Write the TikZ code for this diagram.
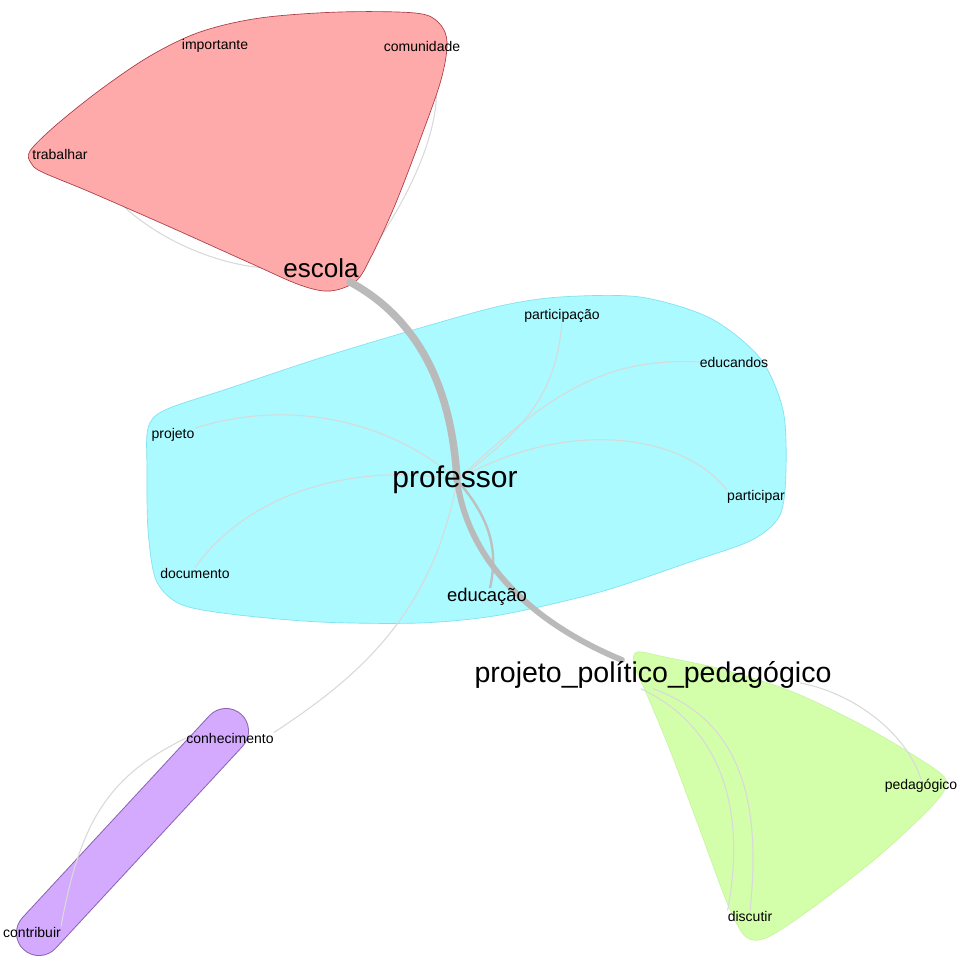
\documentclass[tikz,border=0pt]{standalone}
\usepackage{fontspec}
\setmainfont{Liberation Sans}
\pgfdeclarelayer{under}
\pgfdeclarelayer{hulls}
\pgfdeclarelayer{edges}
\pgfsetlayers{under,hulls,edges,main}
\begin{document}
\begin{tikzpicture}[x=0.75pt,y=-0.75pt,
  small/.style={font=\fontsize{10.5}{12}\selectfont, text=black, inner sep=0pt},
  big/.style={text=black, inner sep=0pt},
  faint/.style={draw=black!15, line width=0.8pt},
  hub/.style={draw=black!27, line width=5.6pt, line cap=round},
  midedge/.style={draw=black!25, line width=1.8pt},
  blobred/.style={fill={rgb,255:red,255;green,170;blue,170}, draw={rgb,255:red,170;green,60;blue,70}, line width=0.5pt},
  blobcyan/.style={fill={rgb,255:red,170;green,250;blue,255}, draw={rgb,255:red,130;green,225;blue,240}, line width=0.5pt},
  blobgreen/.style={fill={rgb,255:red,212;green,255;blue,170}, draw={rgb,255:red,200;green,245;blue,160}, line width=0.5pt}]

\begin{pgfonlayer}{under}
\fill[white] (0,0) rectangle (961,956);
\end{pgfonlayer}
\useasboundingbox (0,0) rectangle (961,956);

% ---- word nodes ----
\node[small] (importante) at (215,46) {importante};
\node[small] (comunidade) at (422,46) {comunidade};
\node[small] (trabalhar) at (60,154) {trabalhar};
\node[big, font=\fontsize{19.5}{22}\selectfont] (escola) at (321,268) {escola};
\node[small] (participacao) at (562,316) {participação};
\node[small] (educandos) at (734,362) {educandos};
\node[small] (projeto) at (173,435) {projeto};
\node[big, font=\fontsize{22.5}{26}\selectfont] (professor) at (455,480) {professor};
\node[small] (participar) at (756,497) {participar};
\node[small] (documento) at (195,573) {documento};
\node[big, font=\fontsize{13.8}{16}\selectfont] (educacao) at (487,597) {educação};
\node[big, font=\fontsize{21.4}{24}\selectfont] (ppp) at (653,675) {projeto\_político\_pedagógico};
\node[small] (pedagogico) at (921,786) {pedagógico};
\node[small] (discutir) at (750,916) {discutir};
\node[small] (conhecimento) at (230,738) {conhecimento};
\node[small] (contribuir) at (32,932) {contribuir};

% ---- edge end points ----
\coordinate (escout) at (350,282);
\coordinate (profc) at (457,480);
\coordinate (pppin) at (622,660);
\coordinate (eduin) at (490,588);
\coordinate (comin) at (436,85);
\coordinate (pppne) at (800,683);

% ---- edges of the red group, partly hidden by its hull ----
\begin{pgfonlayer}{under}
\draw[faint] (trabalhar.south east) .. controls (120,228) and (220,272) .. (escola.west);
\draw[faint] (comin) .. controls (440,130) and (410,200) .. (escola.east);
\end{pgfonlayer}

% ---- cluster hulls ----
\begin{pgfonlayer}{hulls}
\path[blobred] plot[smooth cycle, tension=0.55] coordinates {
  (30,151) (55,126) (100,90) (150,56) (200,32) (260,18) (340,12) (415,13) (438,22)
  (447,42) (441,80) (420,140) (395,205) (372,255) (356,281) (330,291)
  (300,285) (250,263) (170,227) (90,192) (42,172) (31,163)};
\path[blobcyan] plot[smooth cycle, tension=0.5] coordinates {
  (148,428) (165,410) (230,388) (320,358) (420,328) (500,306) (560,297)
  (640,297) (710,318) (760,358) (783,410) (786,470) (780,515) (752,540)
  (690,562) (600,592) (500,615) (420,623) (320,622) (230,614) (180,604)
  (156,580) (148,530) (147,470)};
\path[blobgreen] plot[smooth cycle, tension=0.5] coordinates {
  (637,652) (665,657) (725,670) (793,692) (860,724) (918,758) (946,780)
  (934,804) (880,855) (815,906) (768,937) (746,937) (728,905) (700,830)
  (670,750) (645,690) (634,665)};
% purple capsule
\draw[line width=34.5pt, line cap=round, draw={rgb,255:red,140;green,100;blue,180}] (226,731) -- (39,933);
\draw[line width=33pt, line cap=round, draw={rgb,255:red,212;green,170;blue,255}] (226,731) -- (39,933);
\end{pgfonlayer}

\begin{pgfonlayer}{edges}
% ---- thin edges ----
\draw[faint] (projeto.north east) .. controls (300,395) and (400,428) .. (profc);
\draw[faint] (documento.north) .. controls (250,490) and (360,462) .. (profc);
\draw[faint] (participacao.south) .. controls (555,400) and (520,432) .. (profc);
\draw[faint] (educandos.west) .. controls (600,357) and (545,398) .. (profc);
\draw[faint] (participar.north west) .. controls (680,430) and (560,420) .. (profc);
\draw[faint] (conhecimento.north east) .. controls (350,682) and (432,620) .. (profc);
\draw[faint] (conhecimento.west) .. controls (110,775) and (80,820) .. (contribuir.north east);
\draw[faint] (ppp.south) .. controls (740,720) and (762,800) .. (discutir.north);
\draw[faint] (ppp.south) ++(-12,0) .. controls (728,730) and (745,820) .. (discutir.north west);
\draw[faint] (pppne) .. controls (850,692) and (905,730) .. (pedagogico.north);

% ---- strong edges ----
\draw[midedge] (profc) .. controls (492,520) and (498,552) .. (eduin);
\draw[hub] (escout) .. controls (420,320) and (452,390) .. (profc);
\draw[hub, line width=4.4pt] (profc) .. controls (468,560) and (530,622) .. (pppin);
\end{pgfonlayer}
\end{tikzpicture}
\end{document}
